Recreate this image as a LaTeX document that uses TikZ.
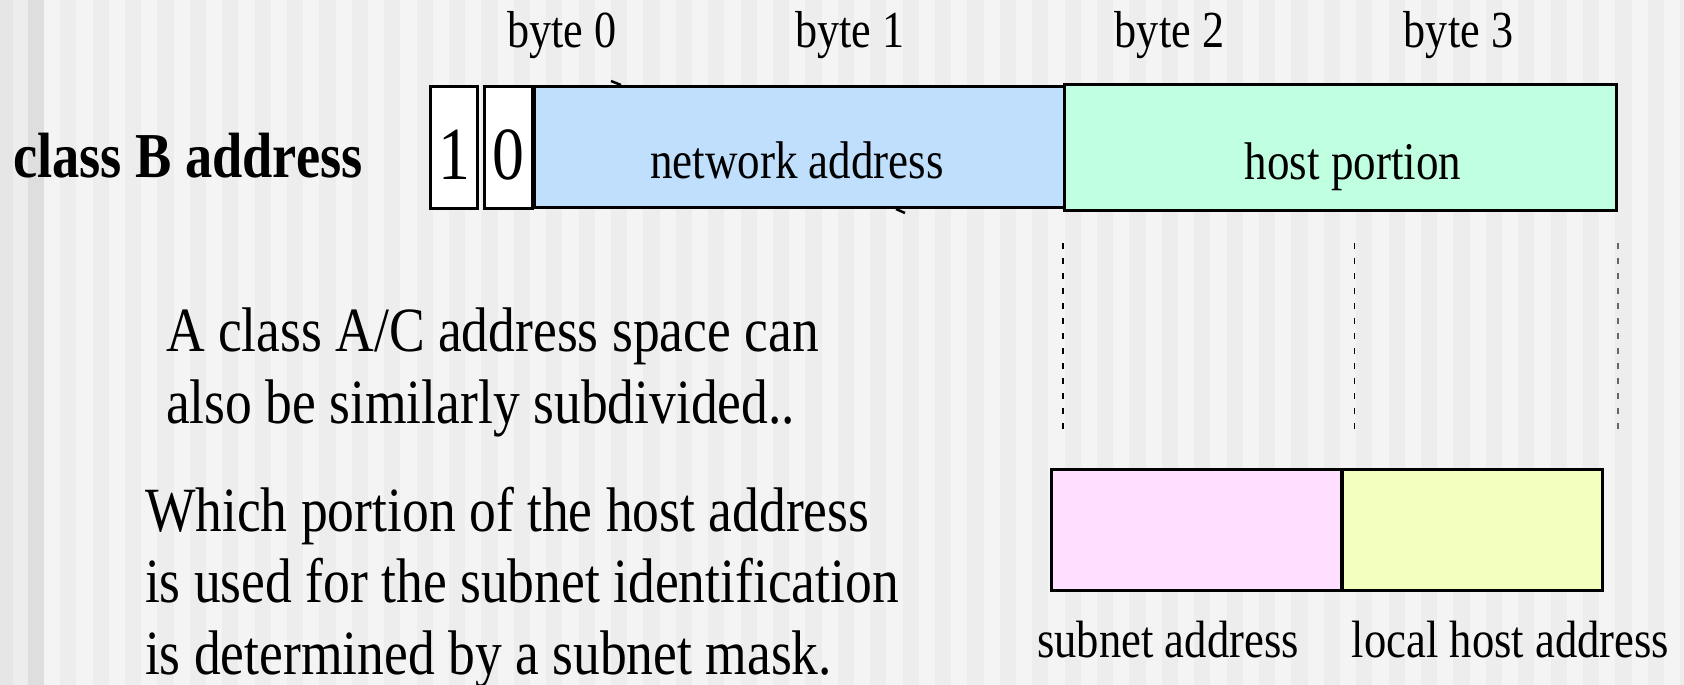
\documentclass[tikz,border=0pt]{standalone}
\usepackage{fontspec}
\usepackage{graphicx}
\setmainfont{Liberation Serif}
\newcommand\fsz[1]{\fontsize{#1}{#1}\selectfont}
\newcommand\cond[1]{\scalebox{0.85}[1]{#1}}
\definecolor{stripeA}{HTML}{F4F4F4}
\definecolor{stripeB}{HTML}{EDEDED}
\definecolor{edgeA}{HTML}{E6E6E6}
\definecolor{edgeB}{HTML}{DEDEDE}
\definecolor{netblue}{HTML}{BFDFFC}
\definecolor{hostgreen}{HTML}{C0FFE0}
\definecolor{subpink}{HTML}{FFDFFF}
\definecolor{locyellow}{HTML}{F2FFBF}
\begin{document}
\begin{tikzpicture}[x=1pt,y=-1pt,
  field/.style={draw=black, line width=3pt, rectangle, inner sep=0pt, outer sep=0pt},
  lbl/.style={inner sep=0pt, outer sep=0pt, anchor=base},
  lblw/.style={inner sep=0pt, outer sep=0pt, anchor=base west},
  guide/.style={draw=black, line width=1.2pt, dash pattern=on 6pt off 9pt}]
\useasboundingbox (0,0) rectangle (1684,685);
% striped background
\fill[stripeB] (0,0) rectangle (1684,685);
\fill[edgeA] (0,0) rectangle (13,685);
\fill[edgeB] (28,0) rectangle (44,685);
\foreach \i in {0,...,50}
  \fill[stripeA] ({44+\i*32.4},0) rectangle ({60.2+\i*32.4},685);

% title
\node[lblw, font=\fsz{64}\bfseries] (title) at (13,177) {\cond{class B address}};

% byte labels
\node[lbl, font=\fsz{52}] (by0) at (562,48) {\cond{byte 0}};
\node[lbl, font=\fsz{52}] (by1) at (850,48) {\cond{byte 1}};
\node[lbl, font=\fsz{52}] (by2) at (1169.5,48) {\cond{byte 2}};
\node[lbl, font=\fsz{52}] (by3) at (1458.5,48) {\cond{byte 3}};

% class B address fields
\node[field, fill=white, minimum width=47pt, minimum height=122pt] (bit1) at (454,147.5) {};
\node[field, fill=white, minimum width=47.5pt, minimum height=122pt] (bit0) at (508.25,147.5) {};
\node[field, fill=netblue, minimum width=531pt, minimum height=121pt] (net) at (799.5,147) {};
\node[field, fill=hostgreen, minimum width=552pt, minimum height=126pt] (host) at (1340.5,147.5) {};
\node[lbl, font=\fsz{75}] (t1) at (454,179) {\cond{1}};
\node[lbl, font=\fsz{75}] (t0) at (508.5,179) {\cond{0}};
\node[lbl, font=\fsz{53}] (nettxt) at (797,178) {\cond{network address}};
\node[lbl, font=\fsz{53}] (hosttxt) at (1353,179) {\cond{host portion}};
% small stray ticks on the network field
\draw[line width=2.5pt] (611,81) -- (621,85);
\draw[line width=2.5pt] (896,209) -- (905,213);

% dashed guides
\coordinate (g1a) at (1063,243); \coordinate (g1b) at (1063,434);
\coordinate (g2a) at (1354.5,243); \coordinate (g2b) at (1354.5,434);
\coordinate (g3a) at (1618,243); \coordinate (g3b) at (1618,434);
\draw[guide] (g1a) -- (g1b);
\draw[guide] (g2a) -- (g2b);
\draw[guide, draw=black!60] (g3a) -- (g3b);

% subnet fields
\node[field, fill=subpink, minimum width=289.5pt, minimum height=121pt] (sub) at (1196.25,530) {};
\node[field, fill=locyellow, minimum width=260.5pt, minimum height=121pt] (loc) at (1472.25,530) {};
\node[lbl, font=\fsz{52.5}] (subtxt) at (1168,657) {\cond{subnet address}};
\node[lbl, font=\fsz{52.5}] (loctxt) at (1510.5,657) {\cond{local host address}};

% explanatory text
\node[lblw, font=\fsz{63}] (p1a) at (166,351) {\cond{A class A/C address space can}};
\node[lblw, font=\fsz{63}] (p1b) at (166,423) {\cond{also be similarly subdivided..}};
\node[lblw, font=\fsz{63}] (p2a) at (145,531) {\cond{Which portion of the host address}};
\node[lblw, font=\fsz{63}] (p2b) at (145,602) {\cond{is used for the subnet identification}};
\node[lblw, font=\fsz{63}] (p2c) at (145,674) {\cond{is determined by a subnet mask.}};
\end{tikzpicture}
\end{document}
